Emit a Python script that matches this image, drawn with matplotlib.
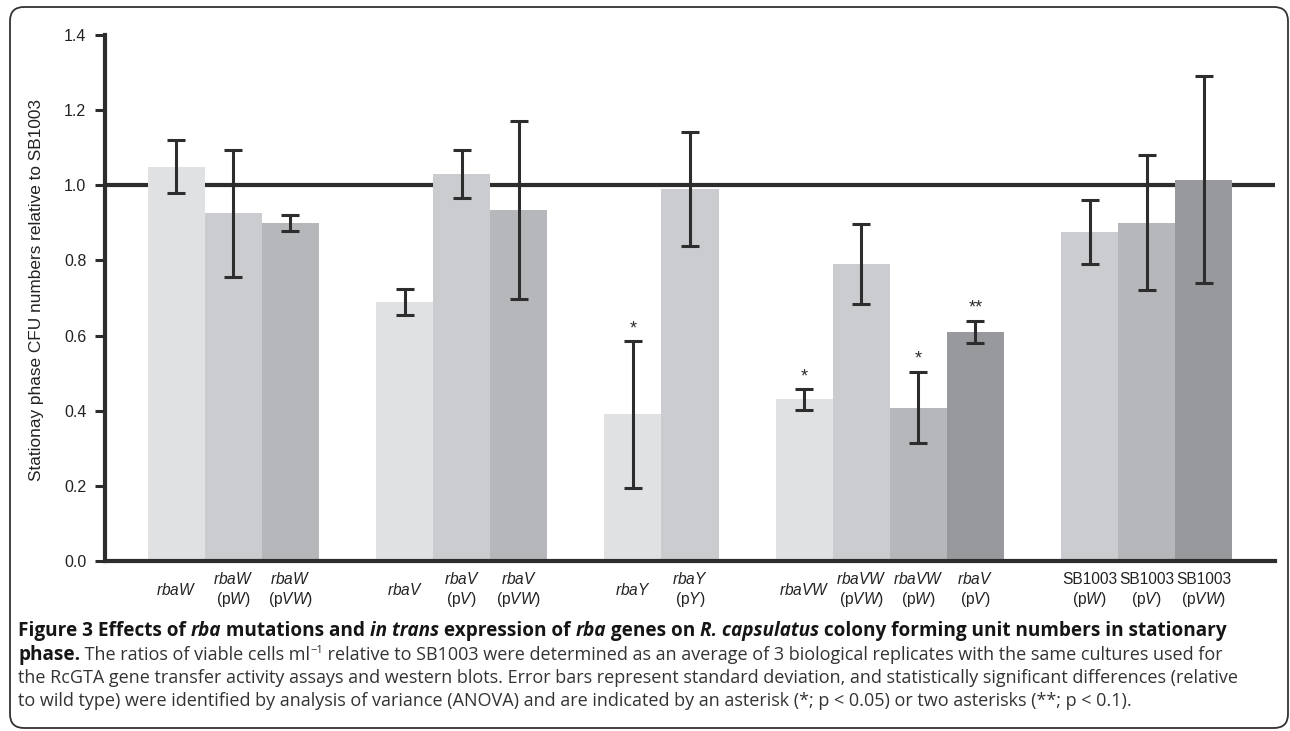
import matplotlib
matplotlib.use('Agg')
import matplotlib.pyplot as plt
from matplotlib.patches import FancyBboxPatch
from matplotlib.transforms import IdentityTransform

plt.rcParams['font.family'] = ['Liberation Sans', 'DejaVu Sans']
plt.rcParams['mathtext.fontset'] = 'custom'
plt.rcParams['mathtext.rm'] = 'Liberation Sans'
plt.rcParams['mathtext.it'] = 'Liberation Sans:italic'

# strain / plasmid per bar, grouped as in the figure
strains = ['rbaW', 'rbaW', 'rbaW', 'rbaV', 'rbaV', 'rbaV', 'rbaY', 'rbaY',
           'rbaVW', 'rbaVW', 'rbaVW', 'rbaV', 'SB1003', 'SB1003', 'SB1003']
plasmids = ['', 'W', 'VW', '', 'V', 'VW', '', 'Y', '', 'VW', 'W', 'V', 'W', 'V', 'VW']
group_sizes = [3, 3, 2, 4, 3]
means = [1.05, 0.925, 0.90, 0.69, 1.03, 0.935, 0.39, 0.99,
         0.43, 0.79, 0.408, 0.61, 0.875, 0.90, 1.015]
sds = [0.07, 0.17, 0.022, 0.035, 0.065, 0.237, 0.195, 0.152,
       0.027, 0.106, 0.095, 0.03, 0.085, 0.18, 0.275]
shade_idx = [0, 1, 2, 0, 1, 2, 0, 1, 0, 1, 2, 3, 1, 2, 3]
stars = ['', '', '', '', '', '', '*', '', '*', '', '*', '**', '', '', '']

shades = ['#e0e1e3', '#cbcccf', '#b6b7ba', '#98999c']
ink = '#2d2d2d'

# bar positions: one empty slot between groups
pos = []
p = 0
for n in group_sizes:
    pos += list(range(p, p + n))
    p += n + 1


def tick_label(strain, plasmid):
    top = strain if strain.startswith('SB') else r'$\mathit{' + strain + '}$'
    if plasmid:
        return top + '\n(p$\\mathit{' + plasmid + '}$)'
    return top


fig = plt.figure(figsize=(12.9, 7.31), dpi=100)
ax = fig.add_axes([105 / 1290, 1 - 561 / 731, (1275 - 105) / 1290, (561 - 35) / 731])

ax.axhline(1.0, color=ink, lw=3.0, zorder=1)
ax.bar(pos, means, width=1.0, color=[shades[i] for i in shade_idx], zorder=2)
ax.errorbar(pos, means, yerr=sds, fmt='none', ecolor=ink, elinewidth=2.2,
            capsize=6.5, capthick=2.2, zorder=3)
for x, m, s, st in zip(pos, means, sds, stars):
    if st:
        ax.annotate(st, (x, m + s), xytext=(0, 3), textcoords='offset points',
                    ha='center', va='bottom', fontsize=13, color=ink)

ax.set_xlim(-1.25, 19.25)
ax.set_ylim(0, 1.4)
ax.set_yticks([0, 0.2, 0.4, 0.6, 0.8, 1.0, 1.2, 1.4])
ax.set_yticklabels(['0.0', '0.2', '0.4', '0.6', '0.8', '1.0', '1.2', '1.4'])
ax.set_xticks(pos)
ax.set_xticklabels([tick_label(s, pl) for s, pl in zip(strains, plasmids)])
for lab in ax.get_xticklabels():
    lab.set_verticalalignment('center')
    lab.set_multialignment('center')
ax.tick_params(axis='x', length=0, pad=21, labelsize=11.2, colors='#222222')
ax.tick_params(axis='y', direction='out', length=7.5, width=2.2, color=ink,
               pad=6, labelsize=11.5, labelcolor='#222222')
for side in ['top', 'right']:
    ax.spines[side].set_visible(False)
for side in ['left', 'bottom']:
    ax.spines[side].set_linewidth(3.0)
    ax.spines[side].set_color(ink)
ax.set_ylabel('Stationay phase CFU numbers relative to SB1003', fontsize=12.4,
              color='#222222')
ax.yaxis.set_label_coords(-0.052, 0.515)

# caption, drawn as runs of differently styled text
renderer = fig.canvas.get_renderer()
cap_font = 'Open Sans'
bold_size = 13.7
text_size = 13.0


def run_width(text, **kw):
    t1 = fig.text(0, 0, '|' + text + '|', transform=IdentityTransform(), **kw)
    t2 = fig.text(0, 0, '||', transform=IdentityTransform(), **kw)
    w = t1.get_window_extent(renderer).width - t2.get_window_extent(renderer).width
    t1.remove()
    t2.remove()
    return w


def draw_runs(x, y_img, runs):
    for run in runs:
        text, weight, style = run[:3]
        scale = run[3] if len(run) > 3 else 1.0
        dy = run[4] if len(run) > 4 else 0
        color = '#151515' if weight == 'bold' else '#333333'
        size = bold_size if weight == 'bold' else text_size
        kw = dict(fontsize=size * scale, fontweight=weight, fontstyle=style,
                  family=cap_font, color=color)
        fig.text(x, 731 - y_img + dy, text, transform=IdentityTransform(),
                 va='baseline', **kw)
        x += run_width(text, **kw)


B, N, I = 'bold', 'normal', 'italic'
draw_runs(18, 636, [('Figure 3 Effects of ', B, N), ('rba', B, I),
                    (' mutations and ', B, N), ('in trans', B, I),
                    (' expression of ', B, N), ('rba', B, I), (' genes on ', B, N),
                    ('R. capsulatus', B, I),
                    (' colony forming unit numbers in stationary', B, N)])
draw_runs(18, 660, [('phase.', B, N),
                    (' The ratios of viable cells ml', N, N),
                    ('\u22121', N, N, 0.62, 7),
                    (' relative to SB1003 were determined as an average of 3 biological '
                     'replicates with the same cultures used for', N, N)])
draw_runs(18, 683, [('the RcGTA gene transfer activity assays and western blots. Error bars '
                     'represent standard deviation, and statistically significant '
                     'differences (relative', N, N)])
draw_runs(18, 706, [('to wild type) were identified by analysis of variance (ANOVA) and are '
                     'indicated by an asterisk (*; p < 0.05) or two asterisks (**; p < 0.1).',
                     N, N)])

border = FancyBboxPatch((10, 3), 1278, 721, boxstyle='round,pad=0,rounding_size=14',
                        transform=IdentityTransform(), fill=False, ec='#333333', lw=1.3)
fig.patches.append(border)

fig.savefig('out.png', dpi=100)
